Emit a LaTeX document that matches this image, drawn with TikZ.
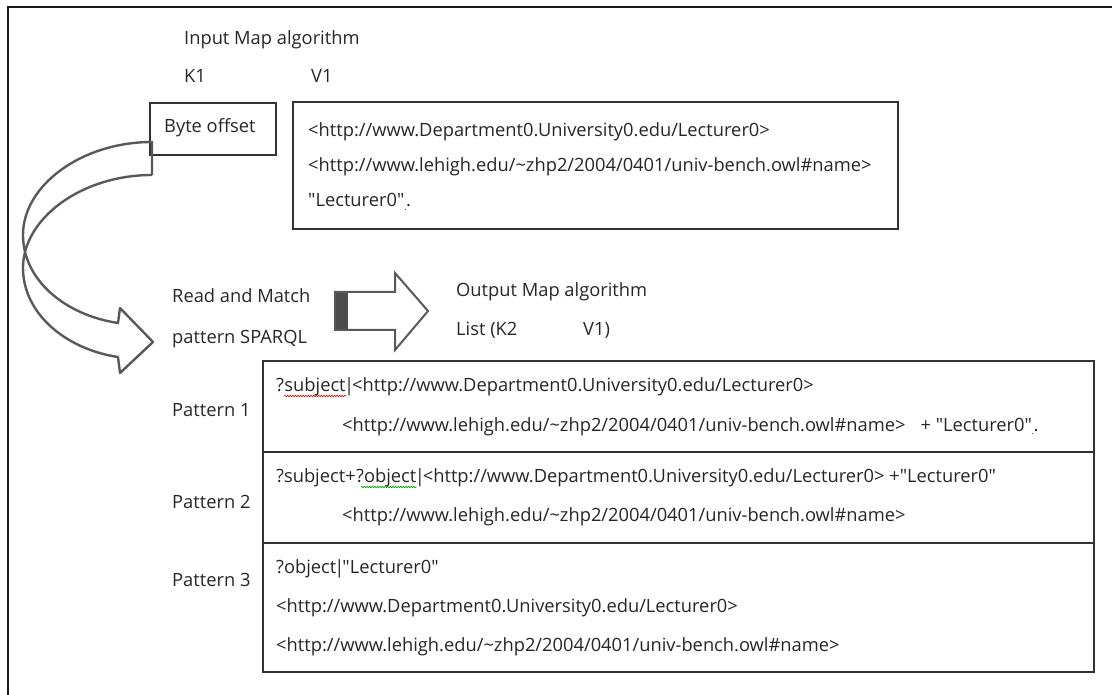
\documentclass[tikz,border=0pt]{standalone}
\usepackage{fontspec}
\setmainfont{Open Sans}[Ligatures=TeXOff]
\usetikzlibrary{decorations.pathmorphing}
\newcommand\sepbar{\kern-2pt|\kern-2pt}
\begin{document}
\begin{tikzpicture}[x=1pt,y=-1pt,
  txt/.style={inner sep=0pt, anchor=base west, font=\fontsize{18.3}{20}\selectfont, text=black!85},
  frame/.style={draw=black!90, line width=1.4pt},
  boxline/.style={draw=black!80, line width=1.2pt},
  bigarrow/.style={draw=black!65, line width=2.4pt, line join=round},
  squig/.style={draw=#1, line width=0.6pt, decorate,
    decoration={snake, amplitude=0.8pt, segment length=2.6pt}}]
\useasboundingbox (0,0) rectangle (1112,695);
% outer frame
\draw[frame] (8,700) -- (8,7) -- (1120,7);

% header texts
\node[txt] (inmap) at (184,45) {Input Map algorithm};
\node[txt] (k1) at (184,83) {K1};
\node[txt] (v1) at (311,83) {V1};

% key box
\draw[boxline] (150,103) rectangle (276,155);
\node[txt] (byte) at (164,133) {Byte offset};

% value box
\draw[boxline] (293,102) rectangle (898,229);
\node[txt] (va) at (308,137) {<http://www.Department0.University0.edu/Lecturer0>};
\node[txt] (vb) at (308,172) {<http://www.lehigh.edu/\textasciitilde zhp2/2004/0401/univ-bench.owl\#name>};
\node[txt] (vc) at (308,207) {"Lecturer0"};
\node[txt] (vcs) at (vc.base east) {\hspace{9pt}};
\node[txt] (vcd) at (vcs.base east) {.};
\draw[squig=green!60!black] ([yshift=-2.5pt]vcs.base west) -- ([yshift=-2.5pt]vcs.base east);

% curved arrow from key box down to the matching step
\draw[bigarrow] (152,175) -- (152,142)
  .. controls (82,142) and (23,185) .. (23,235)
  .. controls (23,280) and (65,315) .. (118,323)
  -- (120,308) -- (153,342) -- (120,373) -- (118,357)
  .. controls (65,349) and (23,313) .. (23,268)
  .. controls (23,218) and (82,175) .. (152,175);

% matching step
\node[txt] (read) at (172,303) {Read and Match};
\node[txt] (patt) at (172,343) {pattern SPARQL};

% block arrow to the output
\fill[black!70] (335,292) rectangle (348,330);
\draw[bigarrow, line width=2pt, line join=miter] (335,292) -- (395,292) -- (395,273) -- (428,311)
  -- (395,350) -- (395,330) -- (335,330) -- cycle;

\node[txt] (outmap) at (456,297) {Output Map algorithm};
\node[txt] (list) at (456,336) {List (K2};
\node[txt] (v1b) at (583,336) {V1)};

% pattern table
\draw[boxline] (263,361) rectangle (1094,672);
\draw[boxline] (263,452) -- (1094,452);
\draw[boxline] (263,543) -- (1094,543);

\node[txt] (pl1) at (172,416) {Pattern 1};
\node[txt] (pl2) at (172,508) {Pattern 2};
\node[txt] (pl3) at (172,586) {Pattern 3};

% row 1
\node[txt] (r1a) at (276,391) {?};
\node[txt] (r1b) at (r1a.base east) {subject};
\node[txt] (r1c) at (r1b.base east) {\sepbar<http://www.Department0.University0.edu/Lecturer0>};
\draw[squig=red!85!black] ([yshift=-5pt]r1b.base west) -- ([yshift=-5pt]r1b.base east);
\node[txt] (r1d) at (342,431) {<http://www.lehigh.edu/\textasciitilde zhp2/2004/0401/univ-bench.owl\#name>\hspace{15pt}+ "Lecturer0"};
\node[txt] (r1s) at (r1d.base east) {\hspace{9pt}};
\node[txt] (r1e) at (r1s.base east) {.};
\draw[squig=green!60!black] ([yshift=-2.5pt]r1s.base west) -- ([yshift=-2.5pt]r1s.base east);

% row 2
\node[txt] (r2a) at (276,482) {?subject+};
\node[txt] (r2b) at (r2a.base east) {?object};
\node[txt] (r2c) at (r2b.base east) {\sepbar<http://www.Department0.University0.edu/Lecturer0> +"Lecturer0"};
\draw[squig=green!60!black] ([yshift=-5pt,xshift=5pt]r2b.base west) -- ([yshift=-5pt]r2b.base east);
\node[txt] (r2d) at (342,521) {<http://www.lehigh.edu/\textasciitilde zhp2/2004/0401/univ-bench.owl\#name>};

% row 3
\node[txt] (r3a) at (276,573) {?object\sepbar"Lecturer0"};
\node[txt] (r3b) at (276,612) {<http://www.Department0.University0.edu/Lecturer0>};
\node[txt] (r3c) at (276,651) {<http://www.lehigh.edu/\textasciitilde zhp2/2004/0401/univ-bench.owl\#name>};
\end{tikzpicture}
\end{document}
